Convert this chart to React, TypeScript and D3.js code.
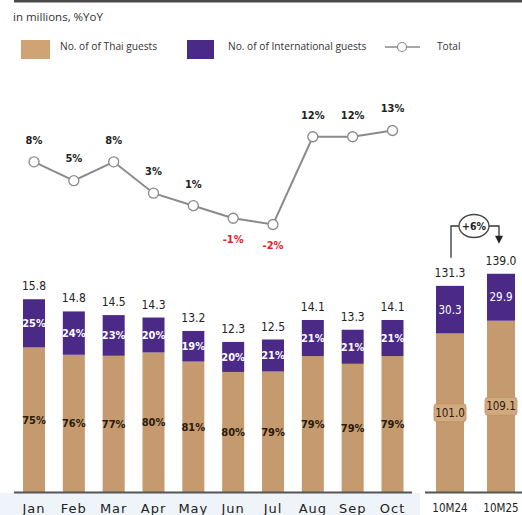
import React from "react";
import * as d3 from "d3";

const months = ["Jan", "Feb", "Mar", "Apr", "May", "Jun", "Jul", "Aug", "Sep", "Oct"];
const totals = [15.8, 14.8, 14.5, 14.3, 13.2, 12.3, 12.5, 14.1, 13.3, 14.1];
const intlPct = [25, 24, 23, 20, 19, 20, 21, 21, 21, 21];
const thaiPct = [75, 76, 77, 80, 81, 80, 79, 79, 79, 79];
const yoy = [8, 5, 8, 3, 1, -1, -2, 12, 12, 13];

const periods = ["10M24", "10M25"];
const periodThai = [101.0, 109.1];
const periodIntl = [30.3, 29.9];
const periodTotal = [131.3, 139.0];
const periodGrowth = "+6%";

const TAN = "#c49a6e";
const PURPLE = "#4a2a86";
const LINE = "#8a8a8a";
const FONT = "'DejaVu Sans Condensed', 'DejaVu Sans', sans-serif";
const UI = "'Open Sans', 'Noto Sans', sans-serif";

export default function App() {
  const W = 522, H = 515;
  const base = 492;
  const x = d3.scalePoint<string>().domain(months).range([34, 392.5]);
  const y = d3.scaleLinear().domain([0, 16]).range([base, base - 16 * 12.2]);
  const xr = d3.scalePoint<string>().domain(periods).range([450, 501]);
  const yr = d3.scaleLinear().domain([0, 140]).range([base, base - 140 * 1.57]);
  const yl = d3.scaleLinear().domain([-2, 13]).range([224.5, 130.5]);
  const bw = 22;
  const bwr = 28;

  const lineGen = d3
    .line<number>()
    .x((_, i) => x(months[i]) as number)
    .y((d) => yl(d));

  const ax = xr(periods[0]) as number;
  const bx = xr(periods[1]) as number;
  const ellY = 226;

  return (
    <svg width={W} height={H} style={{ position: "absolute", left: 0, top: 0, background: "#fff" }}>
      <rect x={0} y={0} width={W} height={H} fill="#fff" />
      <rect x={14} y={0} width={W - 14} height={2.5} fill="#4a4a4a" />
      <text x={13} y={21} fontFamily={UI} fontSize={11.5} fill="#333">in millions, %YoY</text>

      {/* legend */}
      <rect x={21} y={40} width={29} height={19} fill="#cfa374" />
      <text x={60} y={46} dy="0.35em" fontFamily={UI} fontSize={10.2} fill="#333">No. of of Thai guests</text>
      <rect x={187} y={40} width={27} height={19} fill={PURPLE} />
      <text x={228} y={46} dy="0.35em" fontFamily={UI} fontSize={10.2} fill="#333">No. of of International guests</text>
      <line x1={385} x2={420} y1={47} y2={47} stroke={LINE} strokeWidth={1.5} />
      <circle cx={402} cy={47} r={4.5} fill="#fff" stroke={LINE} strokeWidth={1.2} />
      <text x={437} y={46} dy="0.35em" fontFamily={UI} fontSize={10.2} fill="#333">Total</text>

      {/* bottom strip */}
      <rect x={0} y={base + 1} width={420} height={H - base} fill="#eef4f9" />

      {/* monthly bars */}
      {months.map((m, i) => {
        const cx = x(m) as number;
        const intl = (totals[i] * intlPct[i]) / 100;
        const yTop = y(totals[i]);
        const ySplit = y(totals[i] - intl);
        return (
          <g key={m}>
            <rect x={cx - bw / 2} y={ySplit} width={bw} height={base - ySplit} fill={TAN} />
            <rect x={cx - bw / 2} y={yTop} width={bw} height={ySplit - yTop} fill={PURPLE} />
            <text x={cx} y={yTop - 9} textAnchor="middle" fontFamily={FONT} fontSize={12} fill="#222">
              {totals[i].toFixed(1)}
            </text>
            <text x={cx} y={(yTop + ySplit) / 2} dy="0.35em" textAnchor="middle" fontFamily={FONT} fontWeight="bold" fontSize={11} fill="#fff">
              {intlPct[i]}%
            </text>
            <text x={cx} y={(ySplit + base) / 2} dy="0.35em" textAnchor="middle" fontFamily={FONT} fontWeight="bold" fontSize={11} fill="#2a1a0a">
              {thaiPct[i]}%
            </text>
            <text x={cx} y={508} dy="0.35em" textAnchor="middle" fontFamily="'DejaVu Sans', sans-serif" fontSize={13} letterSpacing={1} fill="#222">
              {m}
            </text>
          </g>
        );
      })}
      <line x1={14} x2={412} y1={base + 0.5} y2={base + 0.5} stroke="#555" strokeWidth={2} />

      {/* YoY line */}
      <path d={lineGen(yoy) || ""} fill="none" stroke={LINE} strokeWidth={2} />
      {yoy.map((v, i) => {
        const cx = x(months[i]) as number;
        const cy = yl(v);
        const neg = v < 0;
        return (
          <g key={"p" + i}>
            <circle cx={cx} cy={cy} r={5} fill="#fff" stroke={LINE} strokeWidth={1.3} />
            <text
              x={cx}
              y={neg ? cy + 21 : cy - 22}
              dy="0.35em"
              textAnchor="middle"
              fontFamily={FONT}
              fontWeight="bold"
              fontSize={11}
              fill={neg ? "#e0202a" : "#222"}
            >
              {v}%
            </text>
          </g>
        );
      })}

      {/* period bars */}
      {periods.map((p, i) => {
        const cx = xr(p) as number;
        const yTop = yr(periodTotal[i]);
        const ySplit = yr(periodThai[i]);
        const tMid = (ySplit + base) / 2;
        return (
          <g key={p}>
            <rect x={cx - bwr / 2} y={ySplit} width={bwr} height={base - ySplit} fill={TAN} />
            <rect x={cx - bwr / 2} y={yTop} width={bwr} height={ySplit - yTop} fill={PURPLE} />
            <text x={cx} y={yTop - 9} textAnchor="middle" fontFamily={FONT} fontSize={12} fill="#222">
              {periodTotal[i].toFixed(1)}
            </text>
            <text x={cx} y={(yTop + ySplit) / 2} dy="0.35em" textAnchor="middle" fontFamily={FONT} fontSize={11.5} fill="#fff">
              {periodIntl[i].toFixed(1)}
            </text>
            <rect x={cx - 16} y={tMid - 9} width={32} height={18} rx={3} fill="#d2aa80" stroke="#c09065" strokeWidth={0.8} />
            <text x={cx} y={tMid} dy="0.35em" textAnchor="middle" fontFamily={FONT} fontSize={11.5} fill="#2a1a0a">
              {periodThai[i].toFixed(1)}
            </text>
            <text x={cx} y={508} dy="0.35em" textAnchor="middle" fontFamily={FONT} fontSize={11.5} fill="#222">
              {p}
            </text>
          </g>
        );
      })}
      <line x1={425} x2={522} y1={base + 0.5} y2={base + 0.5} stroke="#555" strokeWidth={2} />

      {/* growth annotation */}
      <path d={`M${ax + 1},${yr(periodTotal[0]) - 28} V${ellY} H${474 - 15}`} fill="none" stroke="#333" strokeWidth={1.3} />
      <path d={`M${474 + 15},${ellY} H${bx - 2} V${yr(periodTotal[1]) - 37}`} fill="none" stroke="#333" strokeWidth={1.3} />
      <path
        d={`M${bx - 6},${yr(periodTotal[1]) - 38} L${bx + 2},${yr(periodTotal[1]) - 38} L${bx - 2},${yr(periodTotal[1]) - 30} Z`}
        fill="#222"
      />
      <ellipse cx={474} cy={ellY} rx={15} ry={11.5} fill="#fff" stroke="#444" strokeWidth={1.3} />
      <text x={474} y={ellY} dy="0.35em" textAnchor="middle" fontFamily={FONT} fontWeight="bold" fontSize={10.5} fill="#222">
        {periodGrowth}
      </text>
    </svg>
  );
}
